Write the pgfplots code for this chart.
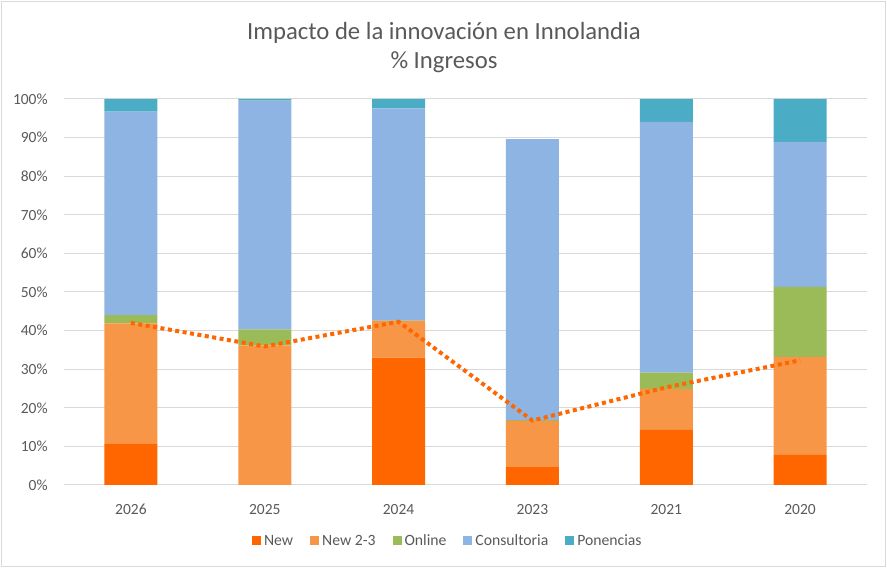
\documentclass[border=0pt]{standalone}
\usepackage{fontspec}
\setmainfont{Carlito}
\usepackage{pgfplots}
\pgfplotsset{compat=1.18}
\definecolor{cNew}{HTML}{FF6600}
\definecolor{cNewb}{HTML}{F79646}
\definecolor{cOnline}{HTML}{9BBB59}
\definecolor{cCons}{HTML}{8EB4E3}
\definecolor{cPon}{HTML}{4BACC6}
\definecolor{gridgray}{HTML}{D9D9D9}
\definecolor{textgray}{HTML}{595959}
\begin{document}
\begin{tikzpicture}
\useasboundingbox (0,0) rectangle (887pt,568pt);
\draw[gridgray, line width=1pt] (1.5pt,1.5pt) rectangle (885.5pt,566.5pt);
\node[text=textgray, font=\fontsize{24.7}{29}\selectfont, align=center] at (444pt,568pt-48pt) {Impacto de la innovación en Innolandia\\\% Ingresos};
\begin{axis}[
  at={(64pt,83pt)}, anchor=south west,
  scale only axis, width=803pt, height=386pt,
  xmin=-0.5, xmax=5.5, ymin=0, ymax=100,
  ybar stacked, bar width=53pt,
  xtick={0,1,2,3,4,5},
  xticklabels={2026,2025,2024,2023,2021,2020},
  ytick={0,10,20,30,40,50,60,70,80,90,100},
  yticklabels={0\%,10\%,20\%,30\%,40\%,50\%,60\%,70\%,80\%,90\%,100\%},
  ymajorgrids, grid style={draw=gridgray, line width=1pt},
  axis x line=bottom, axis y line=left,
  x axis line style={draw=gridgray, line width=1pt, -},
  y axis line style={draw=none},
  tick style={draw=none},
  xticklabel style={font=\fontsize{15.5}{18}\selectfont, text=textgray, anchor=center, yshift=-22pt, inner sep=0pt},
  yticklabel style={font=\fontsize{15.5}{18}\selectfont, text=textgray, anchor=east, xshift=-14pt, inner sep=0pt},
  legend image code/.code={\fill[#1] (0pt,-4.5pt) rectangle (9pt,4.5pt);},
  legend columns=-1,
  legend style={at={(0.478,-0.145)}, anchor=center, draw=none, fill=none,
    font=\fontsize{15.7}{18}\selectfont, text=textgray,
    /tikz/every odd column/.append style={column sep=1pt},
    /tikz/every even column/.append style={column sep=15pt}},
  legend cell align=left,
]
\addplot[fill=cNew, draw=none] coordinates {(0,10.8) (1,0) (2,33.0) (3,4.6) (4,14.3) (5,7.8)};
\addplot[fill=cNewb, draw=none] coordinates {(0,31.1) (1,36.2) (2,9.5) (3,12.0) (4,10.6) (5,25.4)};
\addplot[fill=cOnline, draw=none] coordinates {(0,2.1) (1,4.1) (2,0.1) (3,0.2) (4,4.2) (5,18.1)};
\addplot[fill=cCons, draw=none] coordinates {(0,52.7) (1,59.3) (2,55.0) (3,72.8) (4,65.0) (5,37.6)};
\addplot[fill=cPon, draw=none] coordinates {(0,3.3) (1,0.4) (2,2.4) (3,0) (4,5.9) (5,11.1)};
\legend{New, New 2-3, Online, Consultoria, Ponencias}
\end{axis}
\begin{axis}[
  at={(64pt,83pt)}, anchor=south west,
  scale only axis, width=803pt, height=386pt,
  xmin=-0.5, xmax=5.5, ymin=0, ymax=100,
  axis lines=none,
]
\addplot[cNew, line width=4pt, dash pattern=on 4pt off 3.5pt, line cap=butt, mark=none] coordinates {(0,42.0) (1,35.9) (2,42.3) (3,16.7) (4,25.3) (5,32.3)};
\end{axis}
\end{tikzpicture}
\end{document}
